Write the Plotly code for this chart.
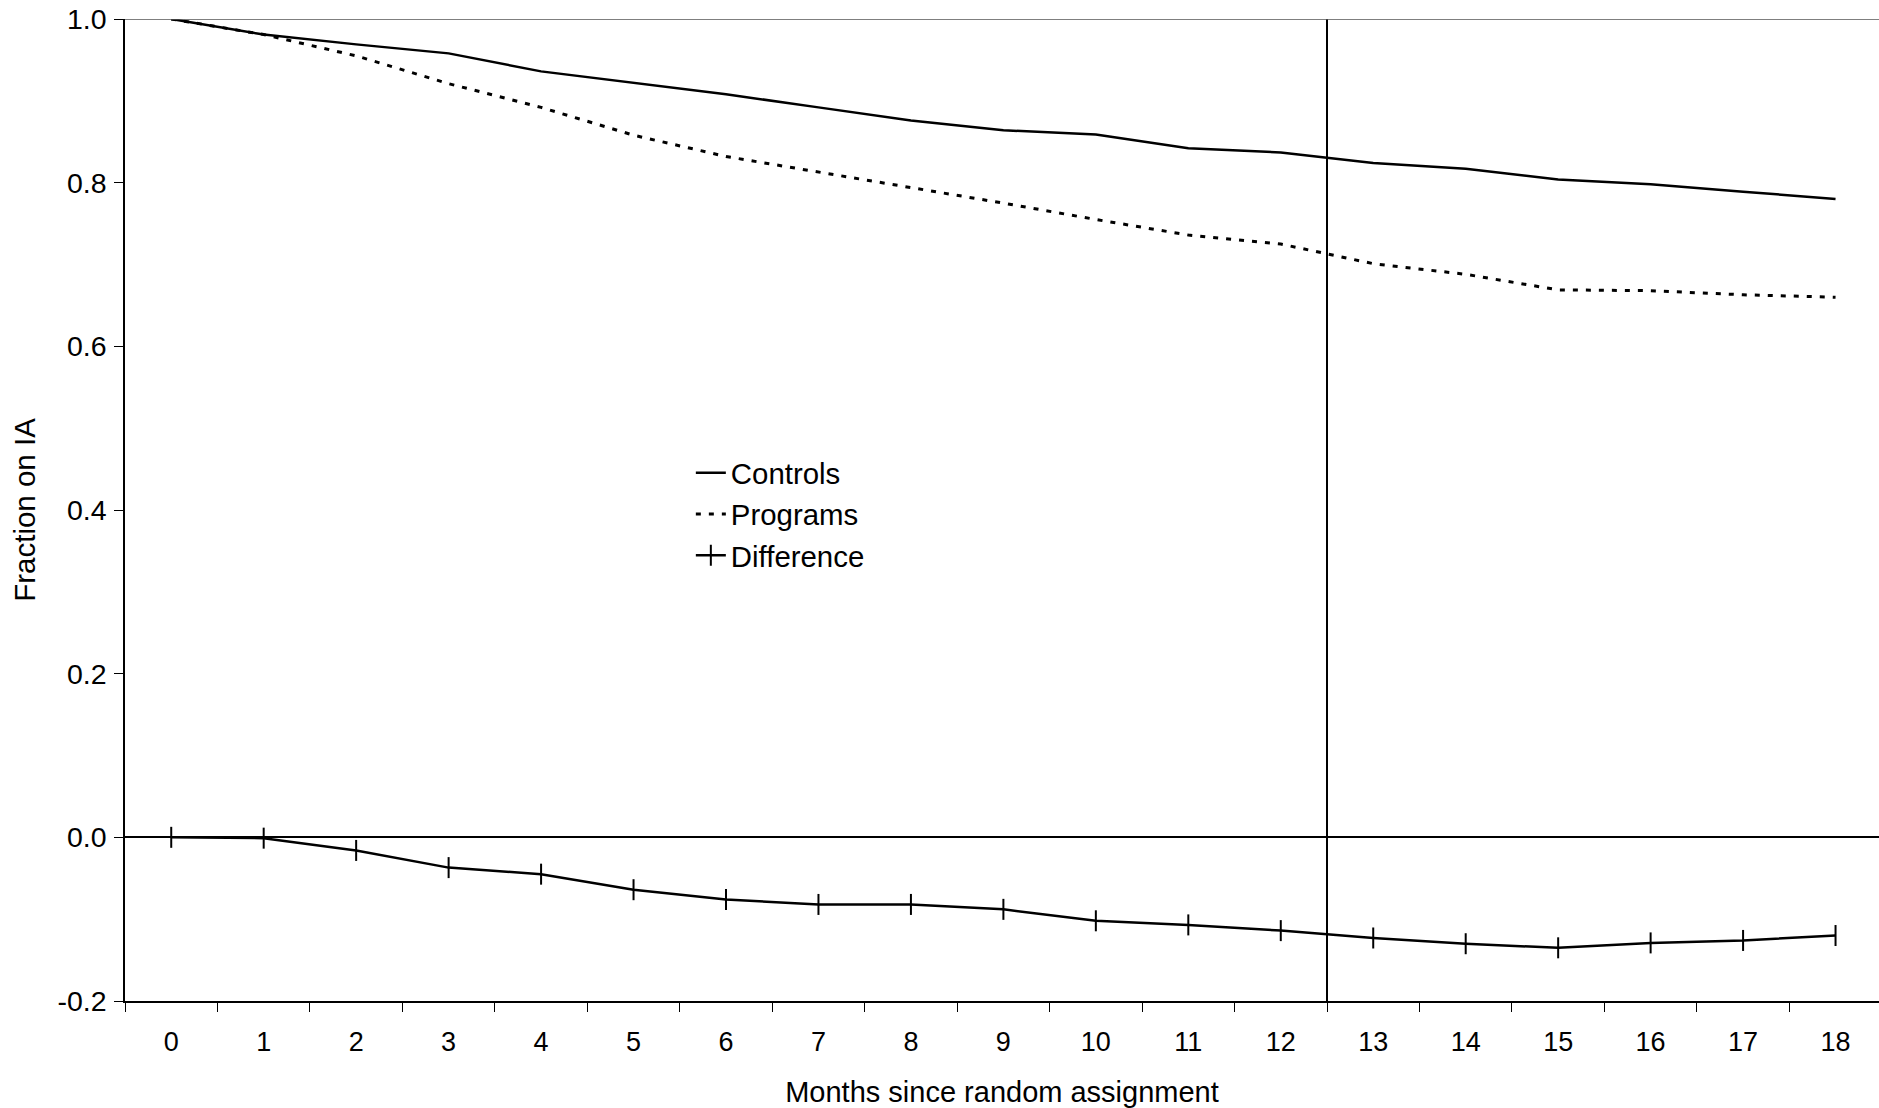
import plotly.graph_objects as go

months = [str(m) for m in range(19)]
controls = [1.000, 0.981, 0.969, 0.958, 0.936, 0.922, 0.908, 0.892, 0.876, 0.864,
            0.859, 0.842, 0.837, 0.824, 0.817, 0.804, 0.798, 0.789, 0.780]
programs = [1.000, 0.981, 0.955, 0.921, 0.892, 0.858, 0.832, 0.813, 0.794, 0.775,
            0.755, 0.736, 0.725, 0.701, 0.688, 0.669, 0.668, 0.663, 0.660]
difference = [0.000, -0.001, -0.016, -0.037, -0.045, -0.064, -0.076, -0.082, -0.082, -0.088,
              -0.102, -0.107, -0.114, -0.123, -0.130, -0.135, -0.129, -0.126, -0.120]
y_tick_vals = [-0.2, 0.0, 0.2, 0.4, 0.6, 0.8, 1.0]
y_tick_labels = ["-0.2", "0.0", "0.2", "0.4", "0.6", "0.8", "1.0"]
cutoff_month = 12.5

FONT = "Liberation Sans, Arial, sans-serif"

fig = go.Figure()
fig.add_trace(go.Scatter(x=months, y=controls, name="Controls", mode="lines",
                         line=dict(color="black", width=2.5)))
fig.add_trace(go.Scatter(x=months, y=programs, name="Programs", mode="lines",
                         line=dict(color="black", width=3, dash="5px,8px")))
fig.add_trace(go.Scatter(x=months, y=difference, name="Difference", mode="lines+markers",
                         line=dict(color="black", width=2.5),
                         marker=dict(symbol="line-ns-open", size=15,
                                     line=dict(color="black", width=2))))

fig.add_shape(type="line", xref="x", yref="paper", x0=cutoff_month, x1=cutoff_month,
              y0=0, y1=1, line=dict(color="black", width=2), layer="above")
fig.add_shape(type="line", xref="paper", yref="y", x0=0, x1=1, y0=1.0, y1=1.0,
              line=dict(color="#555555", width=1.5), layer="above")

fig.update_layout(
    width=1879, height=1108,
    margin=dict(l=125, r=0, t=19, b=106.5, autoexpand=False),
    paper_bgcolor="white", plot_bgcolor="white",
    font=dict(family=FONT, size=27, color="black"),
    showlegend=True,
    legend=dict(x=0.3226, y=0.564, xanchor="left", yanchor="top",
                bgcolor="rgba(0,0,0,0)", font=dict(size=29.4), tracegroupgap=0),
    xaxis=dict(type="category", range=[-0.5, 18.47], showgrid=False, automargin=False,
               showline=True, linecolor="black", linewidth=1.5,
               ticks="outside", tickson="boundaries", ticklen=9, tickwidth=1,
               tickcolor="black", zeroline=False, ticklabelstandoff=16,
               ticklabeloverflow="allow", tickfont=dict(size=27),
               title=dict(text="Months since random assignment", font=dict(size=29), standoff=27)),
    yaxis=dict(range=[-0.2, 1.0], showgrid=False, showline=True, linecolor="black",
               automargin=False,
               linewidth=1.5, ticks="outside", ticklen=9, tickwidth=1, tickcolor="black",
               tickvals=y_tick_vals, ticktext=y_tick_labels, ticklabelstandoff=2,
               ticklabeloverflow="allow", tickfont=dict(size=28.5),
               zeroline=True, zerolinecolor="black", zerolinewidth=2,
               title=dict(text="Fraction on IA", font=dict(size=29.5), standoff=13)),
)

fig.write_html("out.html", config={"displayModeBar": False},
               post_script="document.body.style.margin='0';document.body.style.overflow='hidden';")
